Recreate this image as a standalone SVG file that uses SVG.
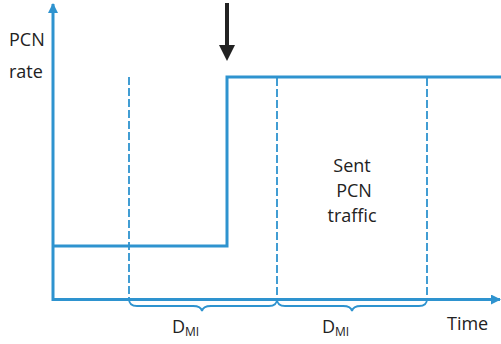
<svg xmlns="http://www.w3.org/2000/svg" width="501" height="344" viewBox="0 0 501 344">
<style>
.ax{stroke:#2e93cf;stroke-width:3;fill:none}
.rate{stroke:#2e93cf;stroke-width:3;fill:none}
.dash{stroke:#2e93cf;stroke-width:1.8;stroke-dasharray:8,3;fill:none}
.brace{stroke:#2e93cf;stroke-width:1.8;fill:none}
text{font-family:"Open Sans","Liberation Sans",sans-serif;font-size:18px;fill:#222}
</style>
<defs>
<marker id="ah" markerUnits="userSpaceOnUse" markerWidth="10" markerHeight="10" refX="9" refY="5" orient="auto">
<path d="M0,0 L10,5 L0,10 z" fill="#2e93cf"/>
</marker>
</defs>
<g id="connectors">
<line class="ax" x1="53" y1="301" x2="53" y2="4" marker-end="url(#ah)"/>
<line class="ax" x1="52" y1="299.5" x2="500" y2="299.5" marker-end="url(#ah)"/>
<polyline class="rate" points="53,246 227,246 227,77 501,77"/>
<line class="dash" x1="129" y1="77" x2="129" y2="299"/>
<line class="dash" x1="277" y1="78" x2="277" y2="299"/>
<line class="dash" x1="427" y1="78" x2="427" y2="299"/>
<path class="brace" d="M129,299 Q129,306 137,306 L193,306 Q201,306 202,311 Q203,306 211,306 L269,306 Q277,306 277,299"/>
<path class="brace" d="M277,299 Q277,306 285,306 L343,306 Q351,306 352,311 Q353,306 361,306 L419,306 Q427,306 427,299"/>
<g id="event-arrow">
<line x1="227" y1="3" x2="227" y2="46" stroke="#222" stroke-width="4"/>
<path d="M219,45 L235,45 L227,61 z" fill="#222"/>
</g>
</g>
<g id="y-label"><text x="9" y="46">PCN</text><text x="9" y="78">rate</text></g>
<g id="x-label"><text x="447" y="330">Time</text></g>
<g id="sent"><text x="352" y="172" text-anchor="middle">Sent</text><text x="354" y="197" text-anchor="middle">PCN</text><text x="352" y="222" text-anchor="middle">traffic</text></g>
<g id="dmi1"><text x="172" y="333">D<tspan font-size="12" dy="3">MI</tspan></text></g>
<g id="dmi2"><text x="322" y="333">D<tspan font-size="12" dy="3">MI</tspan></text></g>
</svg>
